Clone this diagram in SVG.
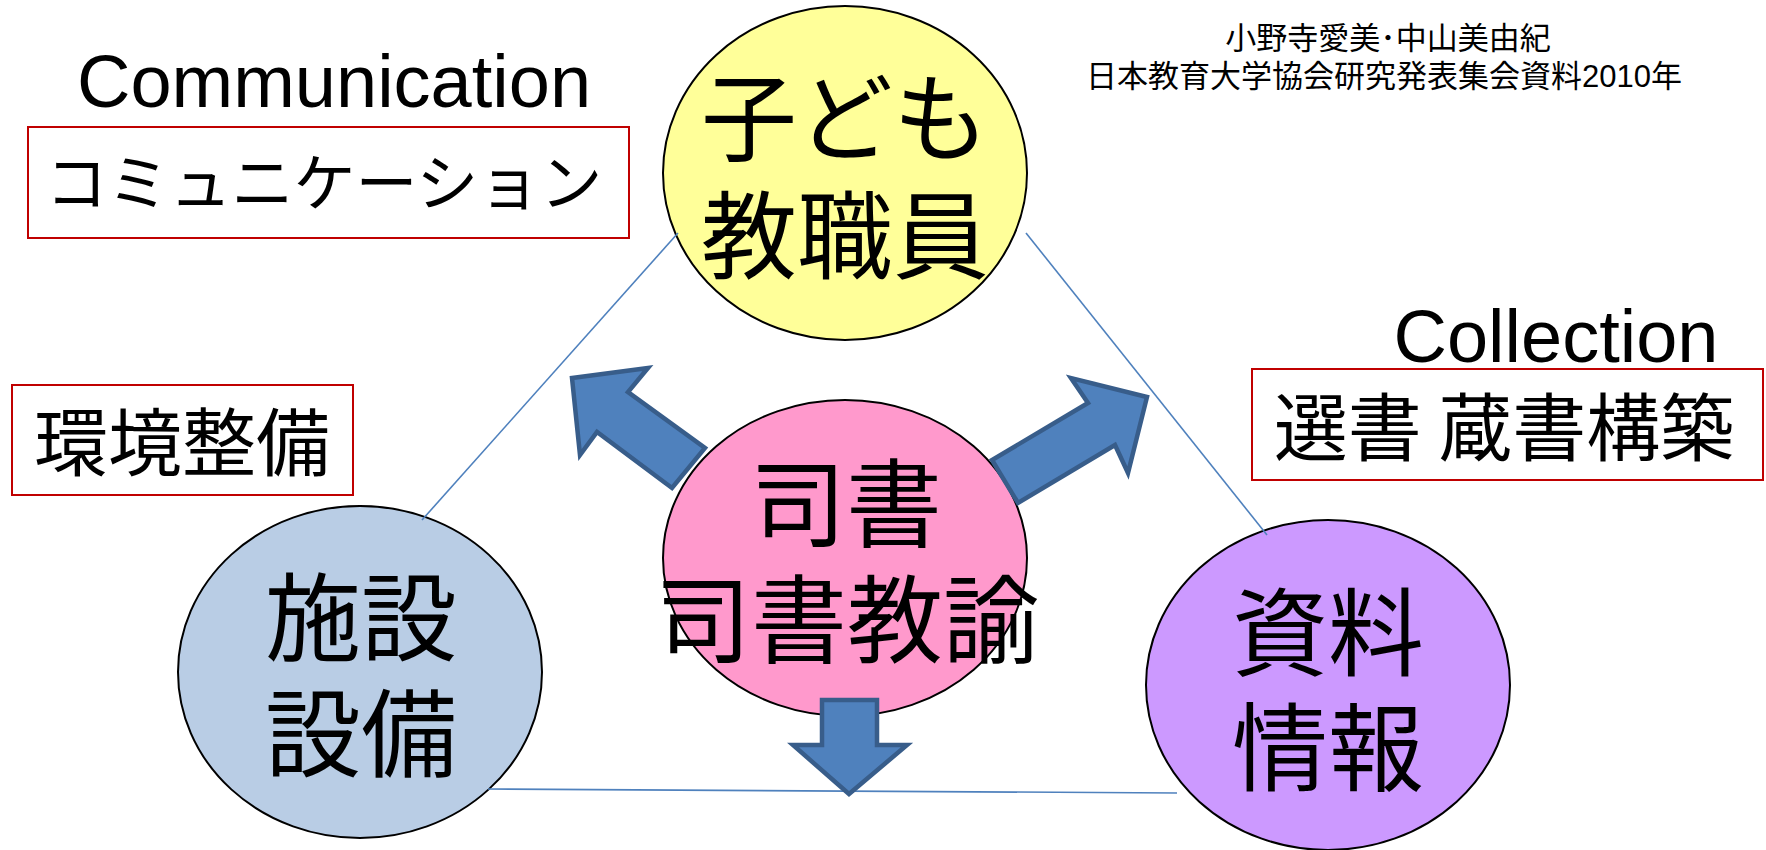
<svg xmlns="http://www.w3.org/2000/svg" width="1766" height="850" viewBox="0 0 1766 850">
<style>
.jp{font-family:"Noto Sans CJK JP","Liberation Sans",sans-serif;fill:#000}
.lat{font-family:"Liberation Sans","Noto Sans CJK JP",sans-serif;fill:#000}
.big{font-size:96px;text-anchor:middle}
.node{stroke:#000;stroke-width:2}
.box{fill:#fff;stroke:#C00000;stroke-width:2}
.conn{stroke:#4F81BD;stroke-width:1.6;fill:none}
.arrow{fill:#4F81BD;stroke:#385D8A;stroke-width:4.5;stroke-linejoin:miter}
</style>
<rect width="1766" height="850" fill="#fff"/>
<g id="credit">
<text class="lat" font-size="31" text-anchor="middle"><tspan x="1388" y="49">小野寺愛美･中山美由紀</tspan><tspan x="1384" y="87">日本教育大学協会研究発表集会資料2010年</tspan></text>
</g>
<g id="label-communication">
<text class="lat" x="334" y="107" font-size="74" text-anchor="middle">Communication</text>
<rect class="box" x="28" y="127" width="601" height="111"/>
<text class="jp" x="324" y="206" font-size="62" text-anchor="middle">コミュニケーション</text>
</g>
<g id="label-kankyo">
<rect class="box" x="12" y="385" width="341" height="110"/>
<text class="jp" x="182" y="470" font-size="74" text-anchor="middle">環境整備</text>
</g>
<g id="label-collection">
<text class="lat" x="1556" y="362" font-size="74" text-anchor="middle">Collection</text>
<rect class="box" x="1252" y="369" width="511" height="111"/>
<text class="jp" x="1504" y="455" font-size="74" text-anchor="middle">選書 蔵書構築</text>
</g>
<g id="node-kodomo">
<ellipse class="node" cx="845" cy="173" rx="182" ry="167" fill="#FFFF99"/>
<text class="jp big"><tspan x="845" y="153">子ども</tspan><tspan x="845" y="271">教職員</tspan></text>
</g>
<g id="node-shisetsu">
<ellipse class="node" cx="360" cy="672" rx="182" ry="166" fill="#B9CDE5"/>
<text class="jp big"><tspan x="361" y="653">施設</tspan><tspan x="361" y="769">設備</tspan></text>
</g>
<g id="node-shiryo">
<ellipse class="node" cx="1328" cy="685" rx="182" ry="165" fill="#CC99FF"/>
<text class="jp big"><tspan x="1328" y="668">資料</tspan><tspan x="1328" y="783">情報</tspan></text>
</g>
<g id="node-shisho">
<ellipse class="node" cx="845" cy="558" rx="182" ry="158" fill="#FF99CC"/>
<text class="jp big"><tspan x="846" y="539">司書</tspan><tspan x="847" y="655">司書教諭</tspan></text>
</g>
<g id="connectors">
<line class="conn" x1="678" y1="233" x2="422" y2="520"/>
<line class="conn" x1="1026" y1="233" x2="1267" y2="535"/>
<line class="conn" x1="488" y1="789" x2="1177" y2="793"/>
</g>
<g id="arrows">
<polygon class="arrow" points="572,378 648,368 628,392 705,448 672,488 597,432 580,455"/>
<polygon class="arrow" points="1147,397 1071,378 1088,403 992,460 1018,503 1115,445 1128,473"/>
<polygon class="arrow" points="822,700 877,700 877,745 907,745 849,794 793,745 822,745"/>
</g>
</svg>
